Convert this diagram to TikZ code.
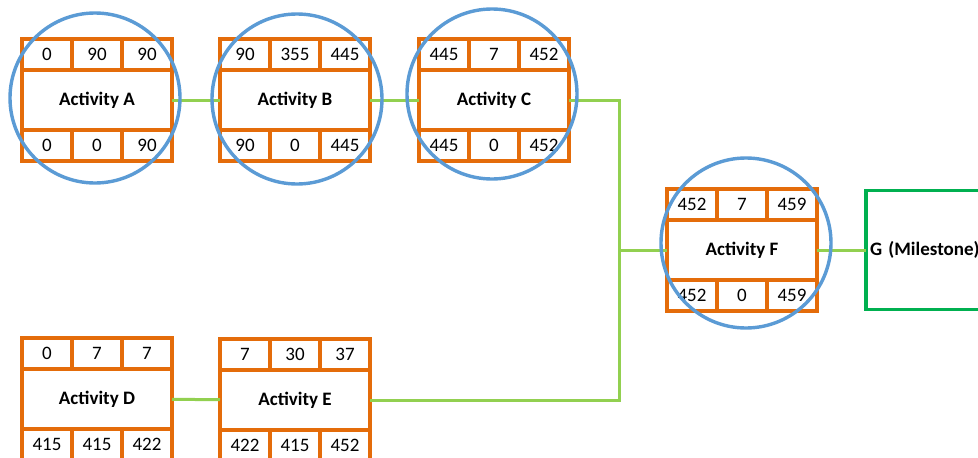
\documentclass[tikz,border=0pt]{standalone}
\usepackage{fontspec}
\setmainfont{Carlito}
\usetikzlibrary{positioning}
\definecolor{boxorange}{RGB}{228,108,10}
\definecolor{ringblue}{RGB}{91,155,213}
\definecolor{linkgreen}{RGB}{146,208,80}
\definecolor{milegreen}{RGB}{0,176,80}
\tikzset{
  x=1pt, y=-1pt,
  mid/.style={draw=boxorange, line width=3.3pt, fill=white, minimum width=150pt,
    minimum height=60pt, inner sep=0pt, outer sep=0pt, font=\fontsize{19}{22}\selectfont\bfseries},
  cell/.style={draw=boxorange, line width=3.3pt, fill=white, minimum width=50pt,
    minimum height=31pt, inner sep=0pt, outer sep=0pt, font=\fontsize{19}{22}\selectfont},
  ring/.style={draw=ringblue, line width=3.4pt},
  link/.style={draw=linkgreen, line width=3pt},
  milestone/.style={draw=milegreen, line width=3.3pt, fill=white, minimum height=119pt,
    text width=150pt, align=left, inner sep=4pt, outer sep=0pt,
    font=\fontsize{19}{22}\selectfont\bfseries}
}
% activity box: name, x, y, label, top values, bottom values
\newcommand\actbox[6]{%
  \node[mid] (#1) at (#2,#3) {#4};
  \foreach \v [count=\i] in {#5}
    \node[cell] (#1-t\i) at ([xshift={(\i-2)*50pt}, yshift=45.5pt]#1.center) {\v};
  \foreach \v [count=\i] in {#6}
    \node[cell] (#1-b\i) at ([xshift={(\i-2)*50pt}, yshift=-45.5pt]#1.center) {\v};
}
\begin{document}
\begin{tikzpicture}
\useasboundingbox[fill=white] (0,0) rectangle (978,458);

% junction points of the merging links
\coordinate (jt) at (619,100);
\coordinate (jb) at (619,400);

\actbox{A}{97}{100}{Activity A}{0,90,90}{0,0,90}
\actbox{B}{295}{100}{Activity B}{90,355,445}{90,0,445}
\actbox{C}{494}{100}{Activity C}{445,7,452}{445,0,452}
\actbox{D}{97}{399}{Activity D}{0,7,7}{415,415,422}
\actbox{E}{295}{400}{Activity E}{7,30,37}{422,415,452}
\actbox{F}{742}{250}{Activity F}{452,7,459}{452,0,459}

\node[milestone, anchor=west] (G) at (866,250) {G (Milestone)};

% links between activities
\draw[link] (A) -- (B);
\draw[link] (B) -- (C);
\draw[link] (D) -- (E);
\draw[link] (C) -- (jt) -- (jb) -- (E);
\draw[link] (jb |- F) -- (F);
\draw[link] (F) -- (G);

% critical path rings
\draw[ring] (95,98) circle (85pt);
\draw[ring] (297,99) circle (85pt);
\draw[ring] (492,94) circle (85pt);
\draw[ring] (746,243) circle (85pt);
\end{tikzpicture}
\end{document}
